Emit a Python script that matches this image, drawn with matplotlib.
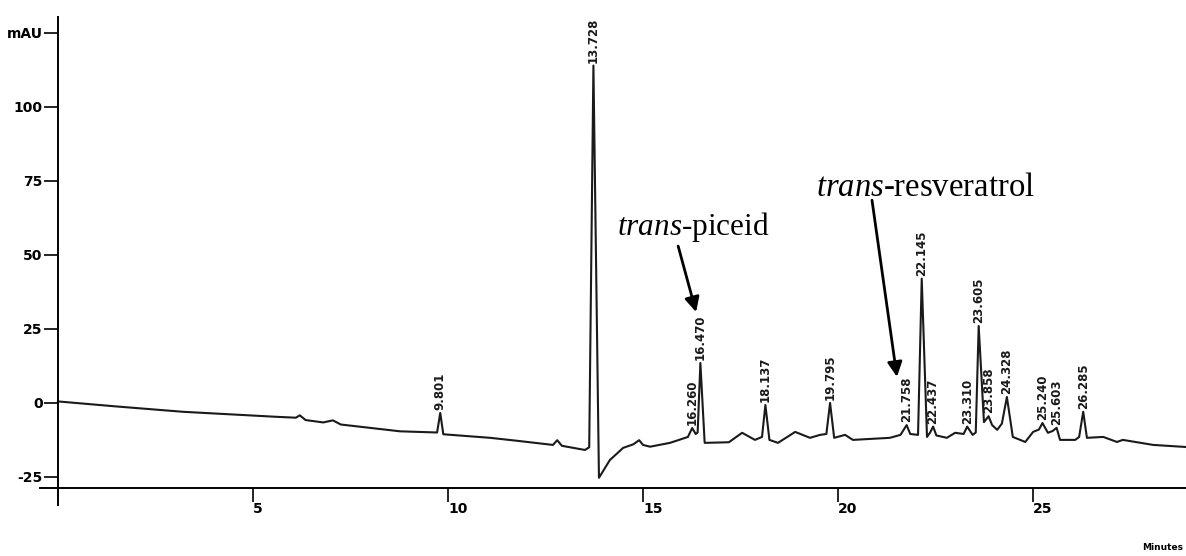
import numpy as np
import matplotlib
matplotlib.use("Agg")
import matplotlib.pyplot as plt

plt.rcParams['mathtext.fontset'] = 'custom'
plt.rcParams['mathtext.rm'] = 'Liberation Serif'
plt.rcParams['mathtext.it'] = 'Liberation Serif:italic'

# baseline of the trace (time in min, signal in mAU), valleys and shoulders included
base_t = [0.0, 1.5, 3.2, 5.6, 6.1, 6.2, 6.35, 6.8, 7.05, 7.25, 8.77, 9.72, 9.88,
          11.08, 11.77, 12.69, 12.8, 12.92, 13.51, 13.62, 13.87, 14.15, 14.49,
          14.75, 14.9, 15.0, 15.18, 15.69, 15.9, 16.15, 16.35, 16.40, 16.58,
          17.2, 17.54, 17.87, 18.05, 18.24, 18.46, 18.9, 19.28, 19.54, 19.70,
          19.9, 20.18, 20.38, 21.33, 21.6, 21.85, 22.05, 22.28, 22.36, 22.52,
          22.79, 23.0, 23.22, 23.45, 23.53, 23.74, 23.95, 24.08, 24.2, 24.48,
          24.8, 25.0, 25.15, 25.38, 25.50, 25.69, 26.08, 26.18, 26.38, 26.8,
          27.15, 27.3, 28.08, 28.92]
base_mau = [0.5, -1.2, -3.0, -4.7, -5.0, -4.2, -5.8, -6.6, -5.9, -7.3, -9.6, -10.0, -10.6,
            -11.8, -12.8, -14.2, -12.6, -14.5, -15.9, -15.0, -25.3, -19.3, -15.2,
            -14.0, -12.6, -14.2, -14.8, -13.5, -12.6, -11.5, -10.5, -10.0, -13.5,
            -13.3, -10.1, -12.5, -11.5, -12.5, -13.5, -9.8, -11.8, -10.8, -10.5,
            -11.8, -10.8, -12.5, -11.8, -10.8, -10.5, -10.8, -11.5, -10.0, -11.0,
            -11.8, -10.1, -10.5, -10.8, -10.0, -6.5, -7.5, -9.1, -7.0, -11.5,
            -13.2, -9.8, -9.0, -10.1, -9.5, -12.5, -12.5, -11.5, -11.8, -11.5,
            -13.2, -12.5, -14.2, -14.9]

# integrated peaks: retention time (min) and apex height (mAU)
peak_rt = [9.801, 13.728, 16.260, 16.470, 18.137, 19.795, 21.758, 22.145,
           22.437, 23.310, 23.605, 23.858, 24.328, 25.240, 25.603, 26.285]
peak_mau = [-3.4, 114.0, -8.5, 13.5, -0.7, 0.0, -7.5, 42.0,
            -8.0, -8.0, 26.0, -4.5, 2.0, -6.8, -8.4, -3.0]

y_ticks = [-25, 0, 25, 50, 75, 100, 125]
y_labels = ['-25', '0', '25', '50', '75', '100', 'mAU']
x_ticks = [5, 10, 15, 20, 25]

t = np.array(base_t + peak_rt)
s = np.array(base_mau + peak_mau)
order = np.argsort(t)
t, s = t[order], s[order]

fig = plt.figure(figsize=(11.86, 5.56), dpi=100)
ax = fig.add_axes([40 / 1186, 51 / 556, 1146 / 1186, 488 / 556])

ax.plot(t, s, color='#1a1a1a', lw=1.5, solid_joinstyle='round')

for rt, h in zip(peak_rt, peak_mau):
    ax.annotate(f'{rt:.3f}', xy=(rt, h), xytext=(0, 2), textcoords='offset points',
                rotation=90, ha='center', va='bottom', fontsize=8.5,
                fontweight='bold', color='#1a1a1a')

ax.set_xlim(-0.46, 28.92)
ax.set_ylim(-34.5, 130.4)

for side in ['top', 'right']:
    ax.spines[side].set_visible(False)
ax.spines['left'].set_position(('data', 0))
ax.spines['bottom'].set_position(('data', -28.7))
ax.spines['left'].set_linewidth(1.4)
ax.spines['bottom'].set_linewidth(1.4)

ax.set_yticks(y_ticks)
ax.set_yticklabels(y_labels, fontsize=10, fontweight='bold')
ax.set_xticks(x_ticks)
ax.set_xticklabels([str(v) for v in x_ticks], fontsize=10, fontweight='bold', ha='left')
ax.tick_params(axis='y', direction='out', length=10, width=1.2, pad=1)
ax.tick_params(axis='x', direction='out', length=10, width=1.2, pad=0)

fig.text(1183 / 1186, 1 - 548 / 556, 'Minutes', ha='right', va='center',
         fontsize=6.5, fontweight='bold')

# compound annotations
ax.text(16.3, 56.8, r'$\it{trans}$-piceid', ha='center', va='baseline',
        fontsize=22.5, family='Liberation Serif')
ax.annotate('', xy=(16.36, 30.7), xytext=(15.9, 53.0),
            arrowprops=dict(arrowstyle='-|>', color='black', lw=2,
                            mutation_scale=22, shrinkA=0, shrinkB=0))
ax.text(22.23, 69.9, r'$\it{trans}$-resveratrol', ha='center', va='baseline',
        fontsize=23.5, family='Liberation Serif')
ax.annotate('', xy=(21.51, 8.8), xytext=(20.87, 68.5),
            arrowprops=dict(arrowstyle='-|>', color='black', lw=2,
                            mutation_scale=22, shrinkA=0, shrinkB=0))

fig.savefig('out.png', dpi=100)
